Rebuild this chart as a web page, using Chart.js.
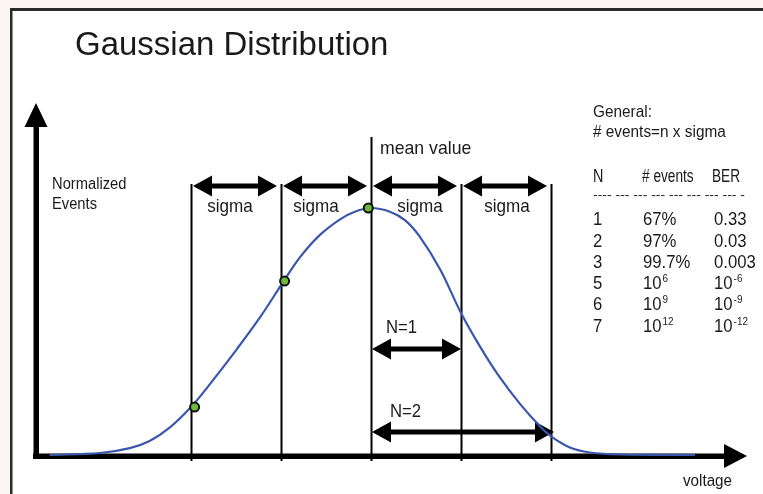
<!DOCTYPE html>
<html>
<head>
<meta charset="utf-8">
<script src="https://cdn.jsdelivr.net/npm/chart.js@4"></script>
<style>
  html, body { margin: 0; padding: 0; background: #fff; }
  #wrap { width: 763px; height: 494px; }
</style>
</head>
<body>
<div id="wrap"><canvas id="gauss" width="763" height="494"></canvas></div>
<script>
/* ── data: voltage in sigma units, events normalised to the peak ── */
const curveX = [-3.57, -3.01, -2.68, -2.46, -2.23, -2.0, -1.79, -1.49, -1.23, -0.97,
                -0.79, -0.57, -0.34, -0.18, 0, 0.21, 0.38, 0.54, 0.77, 1.0,
                1.21, 1.43, 1.66, 1.88, 2.0, 2.21, 2.43, 2.77, 3.6];
const curveY = [0, 0.008, 0.028, 0.057, 0.113, 0.194, 0.287, 0.429, 0.559, 0.704,
                0.80, 0.89, 0.955, 0.985, 1.0, 0.985, 0.95, 0.885, 0.75, 0.575,
                0.44, 0.315, 0.205, 0.115, 0.075, 0.03, 0.01, 0.002, 0];

const dotX = [-1.96, -0.96, -0.03];
const dotY = [0.194, 0.704, 1.0];

const sigmaMarks  = [-2, -1, 0, 1, 2];
const sigmaLabels = ['sigma', 'sigma', 'sigma', 'sigma'];
const nRanges = [1, 2];
const nLabels = ['N=1', 'N=2'];

const tableN     = ['1', '2', '3', '5', '6', '7'];
const eventsBase = ['67%', '97%', '99.7%', '10', '10', '10'];
const eventsExp  = ['', '', '', '6', '9', '12'];
const berBase    = ['0.33', '0.03', '0.003', '10', '10', '10'];
const berExp     = ['', '', '', '-6', '-9', '-12'];

const FONT = '"Liberation Sans", Arial, sans-serif';
const INK  = '#1a1a1a';

/* ── helpers ── */
function txt(ctx, s, x, y, size, align, sx) {
  sx = sx || 1;
  ctx.save();
  ctx.font = size + 'px ' + FONT;
  ctx.textAlign = align || 'left';
  ctx.textBaseline = 'middle';
  ctx.fillStyle = INK;
  ctx.translate(x, y);
  ctx.scale(sx, 1);
  ctx.fillText(s, 0, 0);
  const w = ctx.measureText(s).width * sx;
  ctx.restore();
  return w;
}

function head(ctx, tipX, tipY, dir, len, half) {
  ctx.beginPath();
  if (dir === 'up') {
    ctx.moveTo(tipX, tipY);
    ctx.lineTo(tipX - half, tipY + len);
    ctx.lineTo(tipX + half, tipY + len);
  } else {
    ctx.moveTo(tipX, tipY);
    ctx.lineTo(tipX - dir * len, tipY - half);
    ctx.lineTo(tipX - dir * len, tipY + half);
  }
  ctx.closePath();
  ctx.fill();
}

function dblArrow(ctx, x1, x2, y) {
  ctx.fillStyle = '#000';
  ctx.fillRect(x1 + 10, y - 2.5, x2 - x1 - 20, 5);
  head(ctx, x1, y, -1, 19, 10.5);
  head(ctx, x2, y, 1, 19, 10.5);
}

const diagram = {
  id: 'diagram',
  beforeDatasetsDraw(chart) {
    const ctx = chart.ctx;
    const xs = chart.scales.x;
    const px = v => xs.getPixelForValue(v);
    ctx.save();

    /* frame */
    ctx.fillStyle = '#fdf5f5';
    ctx.fillRect(0, 0, 763, 8);
    ctx.fillRect(0, 0, 10, 494);
    ctx.fillStyle = '#2a2a2a';
    ctx.fillRect(10, 8, 753, 3);
    ctx.fillRect(10, 8, 2.5, 486);

    /* title */
    txt(ctx, 'Gaussian Distribution', 75, 46, 34, 'left', 0.97);

    /* axes */
    ctx.fillStyle = '#000';
    ctx.fillRect(33, 453.5, 695, 5.5);
    head(ctx, 747, 456, 1, 23, 12);
    ctx.fillRect(33.5, 122, 5.5, 337);
    head(ctx, 36, 103, 'up', 24, 11.5);

    txt(ctx, 'Normalized', 52, 185, 16, 'left', 0.92);
    txt(ctx, 'Events', 52, 205, 16, 'left', 0.92);
    txt(ctx, 'voltage', 683, 482, 16, 'left', 0.95);

    /* sigma lines */
    ctx.strokeStyle = '#000';
    ctx.lineWidth = 2;
    sigmaMarks.forEach(m => {
      const x = Math.round(px(m)) + 0.5;
      ctx.beginPath();
      ctx.moveTo(x, m === 0 ? 137 : 184);
      ctx.lineTo(x, 461);
      ctx.stroke();
    });
    txt(ctx, 'mean value', 380, 149, 19, 'left', 0.93);

    /* sigma arrows */
    sigmaLabels.forEach((lab, i) => {
      const a = px(sigmaMarks[i]), b = px(sigmaMarks[i + 1]);
      dblArrow(ctx, a + 2, b - 4, 186);
      txt(ctx, lab, [230, 316, 420, 507][i], 207, 19, 'center', 0.9);
    });

    /* N ranges */
    const nY = [349, 432], nTextY = [328, 412];
    nRanges.forEach((n, i) => {
      dblArrow(ctx, px(0) + 1, px(n) + (i ? 3 : 0), nY[i]);
      txt(ctx, nLabels[i], 386 + i * 4, nTextY[i], 19, 'left', 0.88);
    });

    /* table */
    txt(ctx, 'General:', 593, 113, 16, 'left', 0.96);
    txt(ctx, '# events=n x sigma', 593, 133, 16, 'left', 0.96);
    txt(ctx, 'N', 593, 177, 18, 'left', 0.8);
    txt(ctx, '# events', 642, 177, 18, 'left', 0.76);
    txt(ctx, 'BER', 712, 177, 18, 'left', 0.76);
    ctx.save();
    ctx.font = '12px ' + FONT;
    const dashes = '---- --- --- --- --- --- --- --- -';
    const dw = ctx.measureText(dashes).width;
    ctx.restore();
    txt(ctx, dashes, 593, 196, 12, 'left', 152 / dw);
    tableN.forEach((n, i) => {
      const y = 220 + i * 21.3;
      txt(ctx, n, 593, y, 19, 'left', 0.88);
      let w = txt(ctx, eventsBase[i], 643, y, 19, 'left', 0.88);
      if (eventsExp[i]) txt(ctx, eventsExp[i], 643 + w + 1, y - 5, 11, 'left', 0.9);
      w = txt(ctx, berBase[i], 714, y, 19, 'left', 0.88);
      if (berExp[i]) txt(ctx, berExp[i], 714 + w + 1, y - 5, 11, 'left', 0.9);
    });

    ctx.restore();
  }
};

new Chart(document.getElementById('gauss'), {
  type: 'scatter',
  data: {
    datasets: [
      {
        data: dotX.map((x, i) => ({ x, y: dotY[i] })),
        pointRadius: 4.5,
        pointBackgroundColor: '#6fb83a',
        pointBorderColor: '#111',
        pointBorderWidth: 2,
        order: 0,
      },
      {
        data: curveX.map((x, i) => ({ x, y: curveY[i] })),
        showLine: true,
        borderColor: '#3a57ad',
        borderWidth: 2.2,
        pointRadius: 0,
        tension: 0.35,
        order: 1,
      },
    ],
  },
  options: {
    responsive: false,
    animation: false,
    layout: { padding: 0, autoPadding: false },
    plugins: { legend: { display: false }, tooltip: { enabled: false } },
    scales: {
      x: { type: 'linear', display: false, min: -371 / 90, max: 392 / 90 },
      y: { type: 'linear', display: false, min: -39 / 247, max: 455 / 247 },
    },
  },
  plugins: [diagram],
});
</script>
</body>
</html>
